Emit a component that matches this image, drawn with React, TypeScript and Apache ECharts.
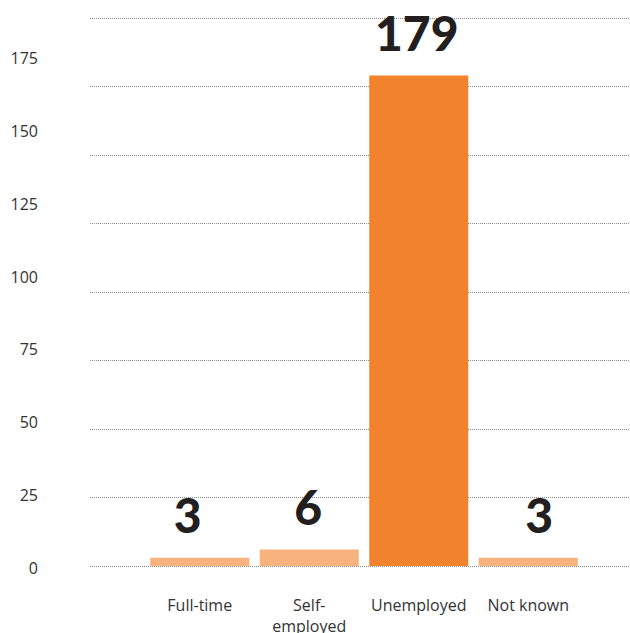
import React, { useEffect, useRef } from "react";
import * as echarts from "echarts";

const categories = ["Full-time", "Self-employed", "Unemployed", "Not known"];
const values = [3, 6, 179, 3];
const barColors = ["#F7B27E", "#F7B27E", "#F2822C", "#F7B27E"];
const labelShifts = [-12, -1, -2, 11];
const yTicks = [0, 25, 50, 75, 100, 125, 150, 175];

export default function App() {
  const ref = useRef<HTMLDivElement>(null);
  useEffect(() => {
    if (!ref.current) return;
    const chart = echarts.init(ref.current, undefined, { renderer: "svg" });
    const font = "'Open Sans', 'Noto Sans', sans-serif";
    chart.setOption({
      animation: false,
      grid: [
        { left: 145, right: 47, top: 18, bottom: 67, outerBoundsMode: "none", containLabel: false },
        { left: 90, right: 0, top: 18, bottom: 67, outerBoundsMode: "none", containLabel: false },
        { left: 90, right: 0, top: 58, bottom: 65, outerBoundsMode: "none", containLabel: false },
      ],
      xAxis: [
        {
          type: "category",
          gridIndex: 0,
          data: categories,
          axisLine: { show: false },
          axisTick: { show: false },
          axisLabel: {
            interval: 0,
            fontFamily: font,
            fontSize: 16,
            color: "#333",
            lineHeight: 21,
            margin: 28,
            formatter: (v: string) => v.replace("Self-", "Self-\n"),
          },
        },
        { type: "value", gridIndex: 1, show: false },
        { type: "value", gridIndex: 2, show: false },
      ],
      yAxis: [
        {
          type: "value",
          gridIndex: 0,
          min: 0,
          max: 200,
          interval: 25,
          show: false,
        },
        {
          type: "value",
          gridIndex: 1,
          min: 0,
          max: 200,
          interval: 25,
          axisLine: { show: false },
          axisTick: { show: false },
          axisLabel: { show: false },
          splitLine: {
            show: true,
            lineStyle: { color: "#8a8a8a", type: [1, 1], width: 1 },
          },
        },
        {
          type: "value",
          gridIndex: 2,
          min: yTicks[0],
          max: yTicks[yTicks.length - 1],
          interval: 25,
          axisLine: { show: false },
          axisTick: { show: false },
          splitLine: { show: false },
          axisLabel: {
            fontFamily: font,
            fontSize: 16,
            color: "#333",
            margin: 52,
          },
        },
      ],
      series: [
        {
          type: "bar",
          xAxisIndex: 0,
          yAxisIndex: 0,
          barWidth: 99,
          data: values.map((v, i) => ({
            value: v,
            itemStyle: { color: barColors[i] },
            label: { offset: [labelShifts[i], 0] },
          })),
          label: {
            show: true,
            position: "top",
            distance: 19,
            fontFamily: "Lato, 'DejaVu Sans', sans-serif",
            fontWeight: 900,
            fontSize: 48,
            color: "#231F20",
          },
        },
      ],
    });
    return () => chart.dispose();
  }, []);
  return (
    <div
      ref={ref}
      style={{ position: "fixed", left: 0, top: 0, width: 630, height: 633, background: "#fff" }}
    />
  );
}
